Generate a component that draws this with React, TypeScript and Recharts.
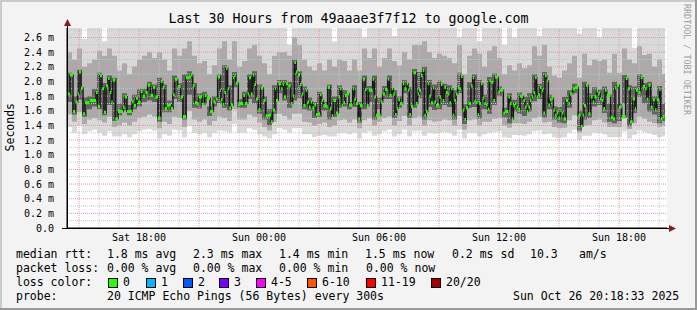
import React from 'react';
import { ComposedChart, Area, Line, XAxis, YAxis, ReferenceLine, CartesianGrid } from 'recharts';

// ---- time axis (minutes after Sat 14:24) ----
const xTickValues = [216, 576, 936, 1296, 1656];
const xTickLabels = ['Sat 18:00', 'Sun 00:00', 'Sun 06:00', 'Sun 12:00', 'Sun 18:00'];
const xMajorGrid = [36, 216, 396, 576, 756, 936, 1116, 1296, 1476, 1656];
const xMinorGrid = [96, 156, 276, 336, 456, 516, 636, 696, 816, 876, 996, 1056, 1176, 1236, 1356, 1416, 1536, 1596, 1716, 1776];

// ---- value axis (ms) ----
const yTickValues = [0, 0.2, 0.4, 0.6, 0.8, 1.0, 1.2, 1.4, 1.6, 1.8, 2.0, 2.2, 2.4, 2.6];
const yMajorGrid = [0.2, 0.4, 0.6, 0.8, 1.0, 1.2, 1.4, 1.6, 1.8, 2.0, 2.2, 2.4, 2.6];
const yMinorGrid = [0.1, 0.3, 0.5, 0.7, 0.9, 1.1, 1.3, 1.5, 1.7, 1.9, 2.1, 2.3, 2.5, 2.7];

// ---- median rtt (green marks) ----
const medianTimes = [
  2, 9, 18, 25, 32, 36, 42, 48, 54, 68,
  87, 92, 99, 105, 111, 117, 123, 128, 133, 137,
  145, 153, 162, 168, 173, 180, 190, 195, 200, 207,
  213, 221, 227, 235, 242, 250, 258, 265, 273, 281,
  287, 293, 300, 305, 312, 318, 323, 332, 341, 348,
  357, 365, 372, 377, 383, 388, 395, 405, 413, 419,
  429, 439, 446, 452, 459, 462, 467, 472, 477, 482,
  487, 492, 498, 502, 506, 514, 529, 534, 542, 546,
  552, 557, 562, 567, 574, 581, 589, 596, 604, 612,
  617, 624, 627, 634, 642, 647, 651, 657, 664, 671,
  677, 682, 687, 692, 699, 704, 709, 716, 721, 726,
  731, 736, 742, 747, 754, 759, 764, 769, 777, 782,
  789, 794, 799, 807, 814, 819, 824, 829, 834, 839,
  846, 851, 857, 862, 867, 874, 879, 887, 894, 899,
  905, 917, 922, 927, 941, 947, 954, 962, 967, 974,
  979, 984, 989, 994, 999, 1007, 1012, 1019, 1023, 1027,
  1032, 1039, 1047, 1052, 1056, 1062, 1067, 1072, 1077, 1082,
  1087, 1092, 1098, 1102, 1107, 1112, 1117, 1122, 1127, 1132,
  1137, 1142, 1147, 1152, 1157, 1162, 1167, 1172, 1177, 1182,
  1187, 1192, 1197, 1204, 1212, 1217, 1222, 1227, 1232, 1236,
  1242, 1247, 1252, 1257, 1262, 1267, 1272, 1279, 1284, 1294,
  1299, 1309, 1314, 1324, 1329, 1334, 1339, 1344, 1349, 1354,
  1359, 1369, 1374, 1379, 1384, 1389, 1394, 1399, 1404, 1409,
  1414, 1419, 1424, 1429, 1434, 1439, 1444, 1449, 1454, 1459,
  1464, 1469, 1474, 1480, 1484, 1489, 1497, 1504, 1509, 1517,
  1524, 1534, 1541, 1547, 1551, 1557, 1564, 1571, 1577, 1582,
  1589, 1594, 1599, 1604, 1609, 1614, 1619, 1631, 1637, 1644,
  1649, 1656, 1664, 1676, 1682, 1689, 1697, 1704, 1707, 1714,
  1721, 1727, 1734, 1739, 1744, 1751, 1757, 1764, 1769, 1777,
  1781, 1787, 1793,
];
const medianValues = [
  1.83, 2.09, 1.59, 1.72, 1.83, 2.13, 1.91, 1.56, 1.71, 1.74,
  1.85, 1.66, 2.08, 1.90, 1.58, 1.94, 2.04, 1.85, 1.72, 2.02,
  1.49, 1.59, 1.59, 1.65, 1.79, 1.59, 1.59, 1.72, 1.67, 1.77,
  1.72, 1.86, 1.80, 1.85, 1.95, 1.81, 1.92, 1.79, 1.50, 2.00,
  1.92, 1.63, 1.67, 1.68, 1.63, 1.82, 2.03, 1.93, 1.79, 1.52,
  2.05, 2.06, 2.09, 1.94, 1.71, 1.70, 1.79, 1.69, 1.81, 1.77,
  1.59, 1.72, 1.76, 2.06, 1.88, 1.75, 1.69, 1.85, 2.18, 1.90,
  1.64, 1.68, 2.05, 2.08, 1.98, 1.70, 1.81, 1.70, 1.83, 2.05,
  1.83, 2.09, 1.96, 1.76, 1.61, 1.91, 1.74, 1.53, 1.54, 1.45,
  1.61, 1.90, 1.74, 1.97, 1.90, 1.96, 1.79, 1.97, 1.94, 1.70,
  1.80, 2.26, 2.13, 2.09, 1.96, 1.83, 1.67, 1.88, 1.72, 1.65,
  1.72, 1.64, 1.68, 1.55, 1.56, 1.82, 1.74, 1.67, 1.66, 1.92,
  1.63, 1.53, 1.74, 1.57, 1.79, 1.90, 1.68, 1.71, 1.81, 1.83,
  1.68, 1.67, 1.90, 1.76, 1.70, 1.49, 1.67, 2.03, 1.89, 1.67,
  1.88, 2.03, 1.79, 1.54, 1.72, 1.83, 1.89, 2.03, 1.81, 1.90,
  1.83, 1.55, 1.63, 1.75, 1.70, 1.97, 1.90, 1.97, 1.88, 1.55,
  1.66, 2.12, 1.70, 1.83, 1.88, 2.08, 2.15, 1.54, 1.59, 1.97,
  1.80, 1.71, 1.91, 1.72, 1.67, 1.68, 1.79, 1.96, 1.74, 1.92,
  1.85, 1.83, 1.71, 1.90, 1.54, 1.74, 1.83, 1.92, 1.90, 2.07,
  1.61, 1.48, 1.64, 1.70, 1.94, 2.05, 1.73, 1.71, 1.55, 1.70,
  1.97, 1.77, 1.70, 1.68, 1.62, 2.01, 1.99, 1.74, 2.06, 1.86,
  1.88, 1.57, 1.59, 1.79, 1.70, 1.49, 1.67, 1.70, 1.65, 1.62,
  1.80, 1.74, 1.65, 1.59, 1.65, 1.74, 1.79, 1.85, 2.05, 1.79,
  1.82, 1.92, 1.88, 1.57, 2.08, 2.01, 1.68, 1.75, 1.77, 1.61,
  1.54, 1.57, 1.50, 1.60, 1.57, 1.49, 1.74, 1.70, 1.83, 1.90,
  1.92, 1.54, 1.39, 1.54, 1.67, 1.95, 1.56, 1.79, 1.72, 1.79,
  1.87, 1.84, 1.76, 1.74, 1.63, 1.88, 1.81, 1.51, 1.49, 1.91,
  1.95, 1.65, 1.52, 2.04, 1.90, 1.45, 1.76, 1.63, 1.88, 1.85,
  2.05, 1.93, 1.90, 1.76, 1.95, 1.65, 1.75, 1.61, 1.75, 1.89,
  1.49, 1.52, 1.52,
];

// ---- smoke (ping spread) on a 15-minute grid ----
const smokeTimes = [
  0, 15, 30, 45, 60, 75, 90, 105, 120, 135, 150, 165, 180, 195, 210, 225, 240, 255, 270, 285,
  300, 315, 330, 345, 360, 375, 390, 405, 420, 435, 450, 465, 480, 495, 510, 525, 540, 555, 570, 585,
  600, 615, 630, 645, 660, 675, 690, 705, 720, 735, 750, 765, 780, 795, 810, 825, 840, 855, 870, 885,
  900, 915, 930, 945, 960, 975, 990, 1005, 1020, 1035, 1050, 1065, 1080, 1095, 1110, 1125, 1140, 1155, 1170, 1185,
  1200, 1215, 1230, 1245, 1260, 1275, 1290, 1305, 1320, 1335, 1350, 1365, 1380, 1395, 1410, 1425, 1440, 1455, 1470, 1485,
  1500, 1515, 1530, 1545, 1560, 1575, 1590, 1605, 1620, 1635, 1650, 1665, 1680, 1695, 1710, 1725, 1740, 1755, 1770, 1785,
  1794,
];
const smokeMin = [
  1.38, 1.30, 1.40, 1.28, 1.32, 1.34, 1.30, 1.26, 1.32, 1.25, 1.25, 1.28, 1.24, 1.28, 1.32, 1.34, 1.35, 1.33, 1.22, 1.28,
  1.26, 1.34, 1.33, 1.24, 1.40, 1.30, 1.28, 1.30, 1.24, 1.30, 1.33, 1.32, 1.30, 1.42, 1.30, 1.30, 1.36, 1.34, 1.28, 1.25,
  1.22, 1.28, 1.36, 1.34, 1.30, 1.36, 1.36, 1.28, 1.28, 1.24, 1.26, 1.27, 1.25, 1.25, 1.30, 1.30, 1.28, 1.30, 1.22, 1.30,
  1.32, 1.26, 1.28, 1.32, 1.34, 1.25, 1.28, 1.34, 1.25, 1.32, 1.33, 1.26, 1.30, 1.29, 1.30, 1.31, 1.30, 1.26, 1.34, 1.22,
  1.30, 1.30, 1.25, 1.28, 1.30, 1.31, 1.32, 1.24, 1.23, 1.27, 1.27, 1.26, 1.28, 1.32, 1.33, 1.28, 1.29, 1.24, 1.23, 1.24,
  1.30, 1.34, 1.20, 1.26, 1.26, 1.30, 1.30, 1.28, 1.24, 1.24, 1.24, 1.32, 1.22, 1.27, 1.33, 1.31, 1.29, 1.27, 1.24, 1.25,
  1.25,
];
const smokeLow = [
  1.55, 1.45, 1.58, 1.42, 1.48, 1.50, 1.47, 1.44, 1.52, 1.38, 1.40, 1.44, 1.40, 1.45, 1.50, 1.52, 1.55, 1.52, 1.36, 1.45,
  1.42, 1.52, 1.50, 1.38, 1.60, 1.48, 1.45, 1.48, 1.40, 1.46, 1.52, 1.50, 1.46, 1.62, 1.48, 1.48, 1.55, 1.52, 1.44, 1.38,
  1.33, 1.45, 1.56, 1.53, 1.48, 1.56, 1.56, 1.45, 1.44, 1.40, 1.42, 1.44, 1.38, 1.40, 1.47, 1.48, 1.44, 1.48, 1.36, 1.47,
  1.50, 1.40, 1.45, 1.50, 1.52, 1.40, 1.46, 1.53, 1.40, 1.50, 1.52, 1.40, 1.47, 1.45, 1.46, 1.48, 1.47, 1.40, 1.53, 1.34,
  1.47, 1.48, 1.40, 1.45, 1.45, 1.49, 1.50, 1.40, 1.37, 1.43, 1.43, 1.42, 1.45, 1.50, 1.52, 1.44, 1.45, 1.38, 1.36, 1.37,
  1.47, 1.54, 1.30, 1.40, 1.41, 1.47, 1.48, 1.44, 1.38, 1.38, 1.38, 1.50, 1.35, 1.43, 1.52, 1.49, 1.45, 1.43, 1.38, 1.40,
  1.40,
];
const smokeDarkLow = [
  1.72, 1.55, 1.75, 1.52, 1.62, 1.66, 1.62, 1.54, 1.68, 1.46, 1.54, 1.60, 1.54, 1.62, 1.66, 1.72, 1.74, 1.72, 1.45, 1.58,
  1.58, 1.76, 1.72, 1.48, 1.82, 1.64, 1.63, 1.70, 1.53, 1.66, 1.70, 1.64, 1.60, 1.92, 1.64, 1.64, 1.76, 1.70, 1.56, 1.48,
  1.40, 1.56, 1.84, 1.74, 1.64, 1.74, 1.77, 1.62, 1.60, 1.50, 1.52, 1.60, 1.48, 1.52, 1.64, 1.66, 1.62, 1.65, 1.44, 1.62,
  1.72, 1.48, 1.62, 1.76, 1.76, 1.50, 1.64, 1.84, 1.50, 1.64, 1.77, 1.48, 1.65, 1.61, 1.62, 1.68, 1.65, 1.48, 1.84, 1.42,
  1.64, 1.65, 1.49, 1.62, 1.56, 1.68, 1.80, 1.51, 1.43, 1.59, 1.56, 1.53, 1.59, 1.73, 1.76, 1.51, 1.62, 1.48, 1.44, 1.43,
  1.64, 1.84, 1.33, 1.48, 1.50, 1.66, 1.68, 1.57, 1.45, 1.43, 1.46, 1.70, 1.39, 1.57, 1.79, 1.70, 1.59, 1.55, 1.43, 1.46,
  1.46,
];
const smokeDarkHigh = [
  2.12, 1.80, 2.16, 1.78, 1.80, 1.90, 2.12, 1.98, 2.08, 2.05, 1.70, 1.84, 1.68, 1.82, 1.90, 1.90, 2.00, 1.96, 2.05, 1.96,
  1.74, 2.08, 1.98, 2.10, 2.14, 1.98, 1.84, 1.86, 1.66, 1.80, 2.10, 2.22, 1.95, 2.13, 1.76, 1.86, 2.10, 2.14, 1.96, 1.80,
  1.62, 1.95, 2.02, 2.02, 2.00, 2.30, 2.14, 1.93, 1.78, 1.72, 1.86, 1.72, 1.96, 1.80, 1.95, 1.88, 1.72, 1.95, 1.72, 2.08,
  1.94, 2.08, 1.78, 1.94, 2.08, 1.88, 1.80, 2.02, 1.92, 2.17, 2.13, 2.20, 2.02, 1.96, 2.01, 1.97, 1.95, 1.88, 2.12, 1.69,
  1.99, 2.10, 2.02, 1.82, 2.06, 2.11, 1.93, 1.64, 1.84, 1.75, 1.85, 1.79, 1.84, 2.10, 1.97, 2.13, 1.82, 1.66, 1.65, 1.79,
  1.88, 1.97, 1.60, 2.00, 1.84, 1.92, 1.89, 1.93, 1.70, 2.00, 1.70, 2.09, 1.95, 1.93, 2.10, 1.98, 2.00, 1.80, 1.94, 1.70,
  1.70,
];
const smokeHigh = [
  2.40, 2.30, 2.45, 2.20, 2.25, 2.30, 2.42, 2.35, 2.45, 2.35, 2.15, 2.25, 2.10, 2.20, 2.30, 2.35, 2.40, 2.32, 2.40, 2.30,
  2.15, 2.45, 2.35, 2.45, 2.55, 2.35, 2.25, 2.28, 2.10, 2.22, 2.45, 2.55, 2.30, 2.55, 2.20, 2.28, 2.45, 2.50, 2.35, 2.25,
  2.10, 2.35, 2.40, 2.40, 2.35, 2.60, 2.50, 2.30, 2.20, 2.15, 2.25, 2.15, 2.30, 2.20, 2.30, 2.28, 2.15, 2.30, 2.15, 2.45,
  2.32, 2.45, 2.20, 2.32, 2.45, 2.28, 2.22, 2.40, 2.30, 2.50, 2.50, 2.55, 2.40, 2.32, 2.38, 2.35, 2.32, 2.25, 2.50, 2.10,
  2.35, 2.45, 2.38, 2.20, 2.42, 2.48, 2.32, 2.10, 2.22, 2.15, 2.25, 2.18, 2.22, 2.48, 2.35, 2.50, 2.20, 2.08, 2.05, 2.15,
  2.25, 2.35, 2.05, 2.38, 2.22, 2.30, 2.28, 2.30, 2.12, 2.38, 2.12, 2.45, 2.30, 2.25, 2.48, 2.36, 2.38, 2.20, 2.30, 2.10,
  2.10,
];
const smokeMax = [
  2.80, 2.80, 2.80, 2.58, 2.80, 2.80, 2.80, 2.55, 2.80, 2.80, 2.80, 2.80, 2.80, 2.80, 2.80, 2.80, 2.80, 2.80, 2.80, 2.80,
  2.80, 2.80, 2.80, 2.80, 2.80, 2.80, 2.80, 2.80, 2.80, 2.80, 2.80, 2.80, 2.80, 2.80, 2.80, 2.80, 2.80, 2.80, 2.80, 2.80,
  2.80, 2.80, 2.80, 2.80, 2.50, 2.80, 2.80, 2.80, 2.80, 2.80, 2.80, 2.80, 2.80, 2.55, 2.80, 2.80, 2.80, 2.80, 2.80, 2.60,
  2.80, 2.80, 2.80, 2.80, 2.80, 2.62, 2.80, 2.80, 2.80, 2.80, 2.80, 2.80, 2.80, 2.80, 2.80, 2.80, 2.80, 2.80, 2.60, 2.80,
  2.80, 2.80, 2.55, 2.80, 2.80, 2.80, 2.80, 2.50, 2.80, 2.60, 2.80, 2.80, 2.80, 2.80, 2.62, 2.80, 2.80, 2.80, 2.80, 2.80,
  2.80, 2.80, 2.65, 2.80, 2.80, 2.80, 2.60, 2.80, 2.80, 2.80, 2.80, 2.80, 2.80, 2.46, 2.80, 2.80, 2.80, 2.80, 2.80, 2.80,
  2.80,
];

// ---- legend ----
const lossLabels = ['0', '1', '2', '3', '4-5', '6-10', '11-19', '20/20'];
const lossColors = ['#26ff00', '#00b8ff', '#0059ff', '#7e00ff', '#ff00ff', '#ff5500', '#ff0000', '#a10000'];

const smokeRows = smokeTimes.map((t, i) => ({
  t,
  light: [smokeMin[i], smokeMax[i]],
  mid: [smokeLow[i], smokeHigh[i]],
  dark: [smokeDarkLow[i], smokeDarkHigh[i]],
}));
const medianRows = medianTimes.map((t, i) => ({
  t,
  med: medianValues[i],
  box: [medianValues[i] - 0.021, medianValues[i] + 0.021],
}));

const MONO = '"DejaVu Sans Mono", "Liberation Mono", monospace';
const W = 697;
const H = 310;

const txt = (left: number, center: number, s: string, extra: React.CSSProperties = {}) => (
  <div
    style={{
      position: 'absolute',
      left,
      top: center - 7,
      height: 14,
      lineHeight: '14px',
      fontSize: 11.5,
      fontFamily: MONO,
      color: '#000',
      whiteSpace: 'pre',
      ...extra,
    }}
  >
    {s}
  </div>
);

const lossBoxX = [108, 146, 183, 219, 256, 307, 366, 431];

export default function App() {
  const zProps = (z: number) => ({ zIndex: z } as any);
  return (
    <div style={{ position: 'absolute', left: 0, top: 0, width: W, height: H, background: '#f3f3f3', overflow: 'hidden', fontFamily: MONO }}>
      <div style={{ position: 'absolute', left: 0, top: 0 }}>
        <ComposedChart width={W} height={H} margin={{ top: 28, right: 30, bottom: 62, left: 7 }}>
          <CartesianGrid fill="#ffffff" horizontal={false} vertical={false} stroke="none" />
          <XAxis
            type="number"
            dataKey="t"
            domain={[0, 1800]}
            allowDataOverflow
            ticks={xTickValues}
            interval={0}
            tickFormatter={(v: number) => xTickLabels[xTickValues.indexOf(v)] ?? ''}
            height={20}
            axisLine={{ stroke: '#000' }}
            tickLine={false}
            tickSize={0}
            tickMargin={6}
            tick={{ fontSize: 10, fontFamily: MONO, fill: '#000' }}
          />
          <YAxis
            type="number"
            domain={[0, 2.73]}
            allowDataOverflow
            ticks={yTickValues}
            interval={0}
            tickFormatter={(v: number) => (v === 0 ? '0.0' : v.toFixed(1) + ' m')}
            width={60}
            axisLine={{ stroke: '#000' }}
            tickLine={false}
            tickMargin={7}
            tick={{ fontSize: 10, fontFamily: MONO, fill: '#000' }}
          />
          <Area {...zProps(100)} data={smokeRows} dataKey="light" type="stepAfter" fill="#d9d9d9" fillOpacity={1} stroke="none" isAnimationActive={false} />
          <Area {...zProps(101)} data={smokeRows} dataKey="mid" type="stepAfter" fill="#aaaaaa" fillOpacity={1} stroke="none" isAnimationActive={false} />
          <Area {...zProps(102)} data={smokeRows} dataKey="dark" type="stepAfter" fill="#626262" fillOpacity={1} stroke="none" isAnimationActive={false} />
          {yMinorGrid.map((v) => (
            <ReferenceLine {...zProps(300)} key={'ym' + v} y={v} stroke="#c4c4c4" strokeDasharray="1 1" />
          ))}
          {xMinorGrid.map((v) => (
            <ReferenceLine {...zProps(300)} key={'xm' + v} x={v} stroke="#c4c4c4" strokeDasharray="1 1" />
          ))}
          {yMajorGrid.map((v) => (
            <ReferenceLine {...zProps(301)} key={'yM' + v} y={v} stroke="#e39a9a" strokeDasharray="1 1" />
          ))}
          {xMajorGrid.map((v) => (
            <ReferenceLine {...zProps(301)} key={'xM' + v} x={v} stroke="#e39a9a" strokeDasharray="1 1" />
          ))}
          <Line {...zProps(400)} data={medianRows} dataKey="med" type="stepAfter" stroke="#161616" strokeWidth={1.5} dot={false} isAnimationActive={false} />
          <Area {...zProps(500)} data={medianRows} dataKey="box" type="stepAfter" fill="#26ff00" fillOpacity={1} stroke="none" isAnimationActive={false} />
        </ComposedChart>
      </div>

      {/* axis extensions and arrows */}
      <svg width={W} height={H} style={{ position: 'absolute', left: 0, top: 0, pointerEvents: 'none' }}>
        <line x1={62} y1={228.5} x2={669} y2={228.5} stroke="#000" strokeWidth={1} />
        <line x1={67.5} y1={229} x2={67.5} y2={24} stroke="#000" strokeWidth={1} />
        <polygon points="64,26 71,26 67.5,19" fill="#8b1a1a" />
        <polygon points="669,225 669,232 676,228.5" fill="#8b1a1a" />
      </svg>

      {/* title */}
      <div style={{ position: 'absolute', left: 0, width: W, top: 11, lineHeight: '16px', textAlign: 'center', fontSize: 13.3, fontFamily: MONO, color: '#000' }}>
        Last 30 Hours from 49aaae3f7f12 to google.com
      </div>

      {/* y axis title */}
      <div
        style={{
          position: 'absolute',
          left: 3,
          top: 103,
          writingMode: 'vertical-rl',
          transform: 'rotate(180deg)',
          fontSize: 11.5,
          lineHeight: '14px',
          fontFamily: MONO,
          color: '#000',
        }}
      >
        Seconds
      </div>

      {/* watermark */}
      <div
        style={{
          position: 'absolute',
          left: 682,
          top: 4,
          writingMode: 'vertical-rl',
          fontSize: 8.4,
          lineHeight: '10px',
          fontFamily: MONO,
          color: '#9c9c9c',
          whiteSpace: 'pre',
        }}
      >
        RRDTOOL / TOBI OETIKER
      </div>

      {/* legend */}
      {txt(16, 254.3, 'median rtt:')}
      {txt(107, 254.3, '1.8 ms avg')}
      {txt(193, 254.3, '2.3 ms max')}
      {txt(279, 254.3, '1.4 ms min')}
      {txt(365, 254.3, '1.5 ms now')}
      {txt(452, 254.3, '0.2 ms sd')}
      {txt(530, 254.3, '10.3')}
      {txt(579, 254.3, 'am/s')}

      {txt(16, 268.3, 'packet loss:')}
      {txt(107, 268.3, '0.00 % avg')}
      {txt(193, 268.3, '0.00 % max')}
      {txt(279, 268.3, '0.00 % min')}
      {txt(366, 268.3, '0.00 % now')}

      {txt(16, 282.3, 'loss color:')}
      {lossLabels.map((l, i) => (
        <React.Fragment key={l}>
          <div
            style={{
              position: 'absolute',
              left: lossBoxX[i],
              top: 278,
              width: 8,
              height: 8,
              background: lossColors[i],
              border: '1px solid #000',
            }}
          />
          {txt(lossBoxX[i] + 15, 282.3, l)}
        </React.Fragment>
      ))}

      {txt(16, 296, 'probe:')}
      {txt(107, 296, '20 ICMP Echo Pings (56 Bytes) every 300s')}
      {txt(513, 296, 'Sun Oct 26 20:18:33 2025')}

      {/* 3D frame */}
      <div style={{ position: 'absolute', left: 0, top: 0, width: W, height: 2, background: '#cbcbcb' }} />
      <div style={{ position: 'absolute', left: 0, top: 0, width: 2, height: H, background: '#cbcbcb' }} />
      <div style={{ position: 'absolute', left: 0, top: H - 2, width: W, height: 2, background: '#999999' }} />
      <div style={{ position: 'absolute', left: W - 2, top: 0, width: 2, height: H, background: '#999999' }} />
    </div>
  );
}
